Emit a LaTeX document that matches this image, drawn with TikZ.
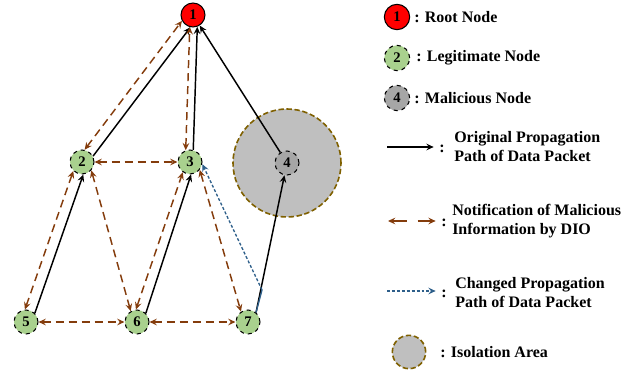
\documentclass[tikz,border=0pt]{standalone}
\usepackage{fontspec}
\setmainfont{Liberation Serif}
\usetikzlibrary{arrows.meta}
\definecolor{rootred}{RGB}{255,0,0}
\definecolor{legitgreen}{RGB}{169,209,142}
\definecolor{malgray}{RGB}{166,166,166}
\definecolor{areagray}{RGB}{191,191,191}
\definecolor{areaborder}{RGB}{127,96,0}
\definecolor{diobrown}{RGB}{132,60,12}
\definecolor{pathblue}{RGB}{46,95,138}
\tikzset{
  nd/.style={circle,draw,line width=0.8pt,minimum size=18pt,inner sep=0pt,
    font=\bfseries\fontsize{11}{11}\selectfont},
  root/.style={nd,fill=rootred},
  legit/.style={nd,fill=legitgreen,dashed},
  mal/.style={nd,fill=malgray,dashed},
  area/.style={circle,draw=areaborder,fill=areagray,line width=1.2pt,
    dash pattern=on 4pt off 2pt,inner sep=0pt},
  tip/.style={Stealth[length=5.5pt,width=5pt,inset=2pt]},
  orig/.style={-{Stealth[length=5.5pt,width=5pt,inset=2pt]},line width=1.1pt},
  dio/.style={{Stealth[length=5.5pt,width=5pt,inset=2pt]}-{Stealth[length=5.5pt,width=5pt,inset=2pt]},
    diobrown,line width=1.1pt,dash pattern=on 6pt off 3.75pt},
  chg/.style={pathblue,line width=1pt,dash pattern=on 2.2pt off 1.5pt},
  lbl/.style={font=\bfseries\fontsize{12}{14.25}\selectfont,anchor=west,inner sep=0pt,align=left},
}
\begin{document}
\begin{tikzpicture}[x=0.75pt,y=-0.75pt]
\useasboundingbox (0,0) rectangle (642,378);
% isolation area and nodes
\node[area,minimum size=81pt] (iso) at (287,163) {};
\node[root] (n1) at (193,15) {1};
\node[legit] (n2) at (82,162) {2};
\node[legit] (n3) at (190,162) {3};
\node[mal] (n4) at (287,163) {4};
\node[legit] (n5) at (26,322) {5};
\node[legit] (n6) at (137,322) {6};
\node[legit] (n7) at (248,322) {7};
\coordinate (bend) at (262,290);
% original path and DIO notification
\draw[orig] (n2.28) -- (n1.258);
\draw[dio] (n2.78) -- (n1.208);
\draw[orig] (n3.75) -- (n1.290);
\draw[dio] (n3.110) -- (n1.255);
\draw[orig] (n4) -- (n1);
\draw[orig] (n5.45) -- (n2.276);
\draw[dio] (n5.95) -- (n2.226);
\draw[dio] (n2.-42) -- (n6.120);
\draw[orig] (n6.45) -- (n3.275);
\draw[dio] (n6.95) -- (n3.235);
\draw[dio] (n3.-39) -- (n7.124);
\draw[dio] (n2) -- (n3);
\draw[dio] (n5) -- (n6);
\draw[dio] (n6) -- (n7);
\draw[orig] (n7.50) -- (n4);
% changed path
\draw[chg,solid] (n7.50) -- (bend);
\draw[chg,-{Stealth[length=5.5pt,width=5pt,inset=2pt]}] (bend) -- (n3.-10);
% legend
\node[root,minimum size=19pt] (k1) at (397,17) {1};
\node[lbl] (t1) at (414,17) {: Root Node};
\node[legit,minimum size=19pt] (k2) at (397,58) {2};
\node[lbl] (t2) at (416,58) {: Legitimate Node};
\node[mal,minimum size=19pt] (k4) at (397,98) {4};
\node[lbl] (t4) at (414,98) {: Malicious Node};
\coordinate (a1) at (387,147);
\node[lbl] (c1) at (439,149) {:};
\draw[orig] (a1) -- ([xshift=-4pt]c1.west |- a1);
\node[lbl] (d1) at (454,147) {Original Propagation\\Path of Data Packet};
\coordinate (a2) at (388,221);
\node[lbl] (c2) at (441,223) {:};
\draw[dio,dash pattern=on 11pt off 8pt] (a2) -- ([xshift=-4pt]c2.west |- a2);
\node[lbl] (d2) at (452,221) {Notification of Malicious\\Information by DIO};
\coordinate (a3) at (387,291);
\node[lbl] (c3) at (441,294) {:};
\draw[chg,-{Stealth[length=5.5pt,width=5pt,inset=2pt]}] (a3) -- ([xshift=-4pt]c3.west |- a3);
\node[lbl] (d3) at (455,293) {Changed Propagation\\Path of Data Packet};
\node[area,minimum size=25pt] (k5) at (409,352) {};
\node[lbl] (t5) at (440,352) {: Isolation Area};
\end{tikzpicture}
\end{document}
